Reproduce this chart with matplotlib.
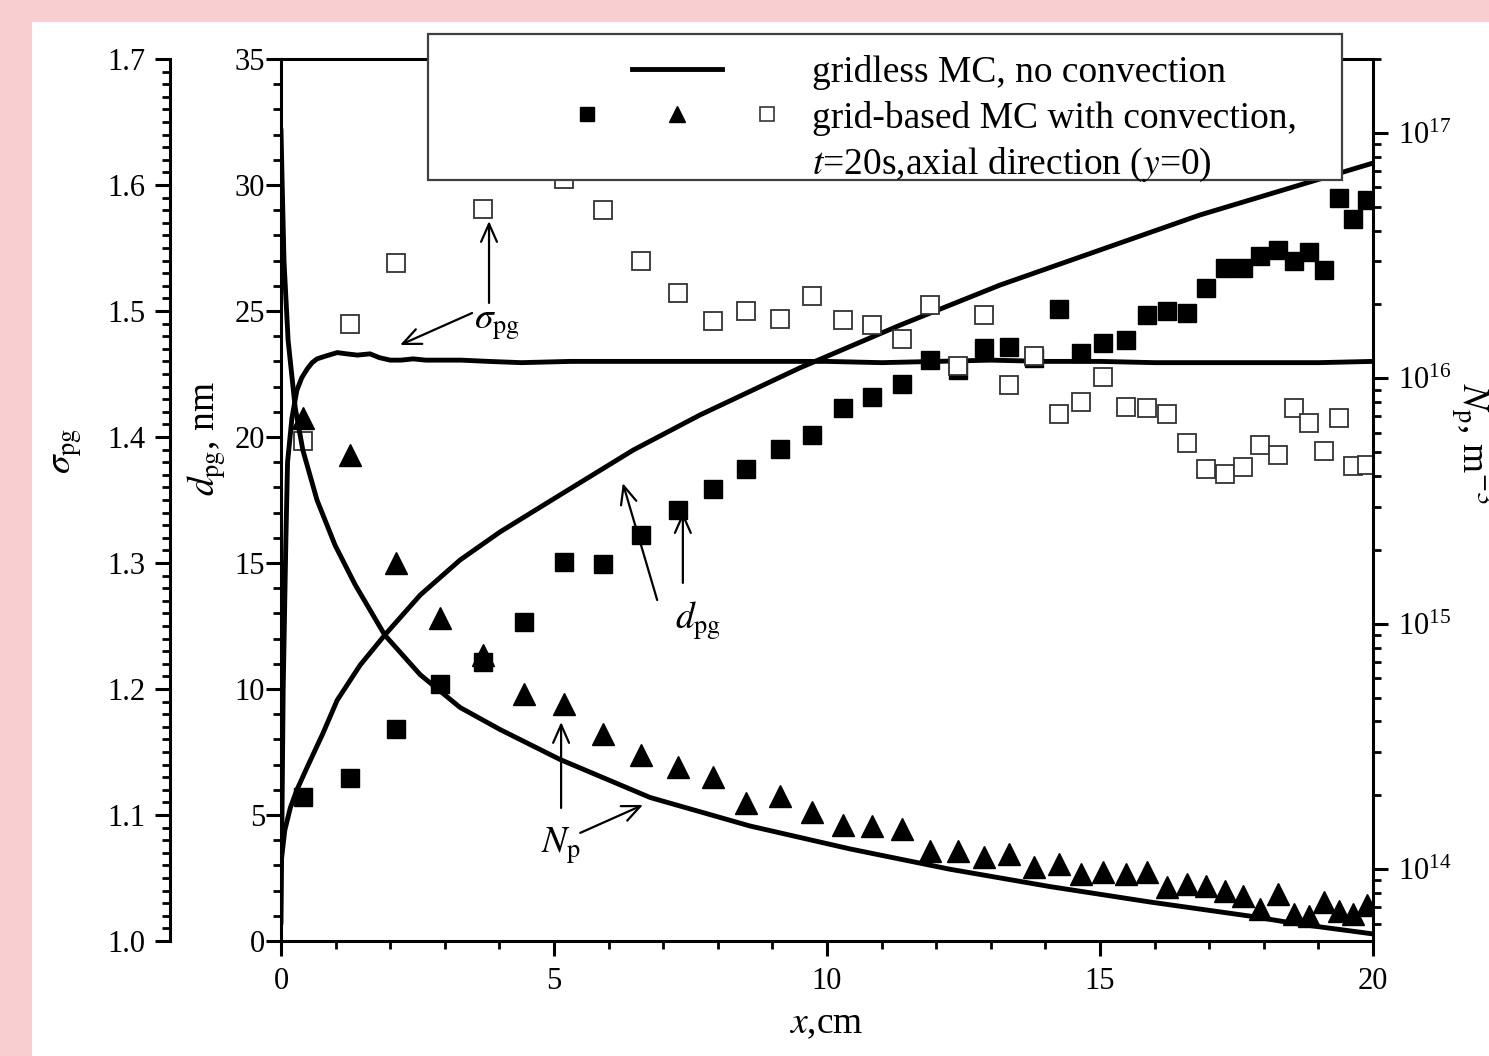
import numpy as np
import matplotlib
matplotlib.use("Agg")
import matplotlib.pyplot as plt
from matplotlib.lines import Line2D
from matplotlib.legend_handler import HandlerTuple
from matplotlib.patches import Rectangle
from matplotlib.ticker import MultipleLocator, LogLocator, NullFormatter, FormatStrFormatter

plt.rcParams["font.family"] = ["Liberation Serif", "DejaVu Serif"]
plt.rcParams["mathtext.fontset"] = "stix"

# grid-based MC with convection, t=20 s, axial direction
x_grid = [0.40, 1.26, 2.11, 2.91, 3.70, 4.45, 5.18, 5.90, 6.59, 7.27,
          7.91, 8.52, 9.14, 9.73, 10.29, 10.82, 11.37, 11.89, 12.40, 12.88,
          13.33, 13.79, 14.25, 14.65, 15.05, 15.48, 15.86, 16.23, 16.59, 16.94,
          17.29, 17.62, 17.93, 18.26, 18.55, 18.83, 19.10, 19.38, 19.63, 19.89]
dpg_grid = [5.71, 6.47, 8.41, 10.20, 11.07, 12.66, 15.04, 14.96, 16.11, 17.10,
            17.94, 18.73, 19.52, 20.08, 21.15, 21.59, 22.10, 23.06, 22.66, 23.53,
            23.57, 23.13, 25.08, 23.33, 23.73, 23.85, 24.84, 25.00, 24.92, 25.91,
            26.71, 26.71, 27.18, 27.42, 26.98, 27.34, 26.63, 29.48, 28.65, 29.40]
# two values sit behind the legend box and cannot be read
sigma_grid = [1.397, 1.490, 1.538, np.nan, 1.581, np.nan, 1.605, 1.580, 1.540, 1.514,
              1.492, 1.500, 1.494, 1.512, 1.493, 1.489, 1.478, 1.505, 1.456, 1.497,
              1.441, 1.464, 1.418, 1.428, 1.448, 1.424, 1.423, 1.418, 1.395, 1.375,
              1.371, 1.376, 1.394, 1.386, 1.423, 1.411, 1.389, 1.415, 1.377, 1.378]
np_grid = [6.87e15, 4.86e15, 1.77e15, 1.06e15, 7.48e14, 5.19e14, 4.69e14, 3.54e14, 2.93e14, 2.60e14,
           2.37e14, 1.87e14, 1.98e14, 1.71e14, 1.52e14, 1.50e14, 1.46e14, 1.19e14, 1.19e14, 1.12e14,
           1.15e14, 1.02e14, 1.05e14, 9.55e13, 9.73e13, 9.55e13, 9.73e13, 8.45e13, 8.69e13, 8.53e13,
           8.15e13, 7.77e13, 6.87e13, 7.91e13, 6.56e13, 6.44e13, 7.35e13, 6.74e13, 6.56e13, 7.14e13]

# gridless MC, no convection
x_dpg_line = [0.0, 0.07, 0.17, 0.29, 0.48, 0.77, 1.03, 1.45, 1.9, 2.55, 3.28,
              4.01, 5.11, 6.45, 7.67, 9.5, 11.34, 13.17, 15.0, 16.83, 18.66, 20.0]
dpg_line = [3.1, 4.4, 5.28, 5.99, 6.9, 8.25, 9.56, 10.95, 12.14, 13.73, 15.12,
            16.23, 17.7, 19.48, 20.87, 22.74, 24.44, 26.03, 27.42, 28.81, 30.0, 30.87]

x_sigma_line = [0, 0.04, 0.09, 0.12, 0.2, 0.29, 0.38, 0.48, 0.57, 0.66,
                0.8, 1.03, 1.2, 1.4, 1.63, 1.8, 2.0, 2.2, 2.42, 2.65,
                2.86, 3.3, 3.8, 4.4, 5.3, 6, 7, 8, 9, 10,
                11, 12, 13, 14, 15, 16, 17, 18, 19, 20]
sigma_line = [1.015, 1.20, 1.32, 1.38, 1.415, 1.437, 1.447, 1.454, 1.459, 1.462,
              1.464, 1.467, 1.466, 1.465, 1.466, 1.463, 1.461, 1.461, 1.462, 1.461,
              1.461, 1.461, 1.460, 1.459, 1.460, 1.460, 1.460, 1.460, 1.460, 1.460,
              1.459, 1.460, 1.461, 1.460, 1.460, 1.459, 1.459, 1.459, 1.459, 1.460]

x_np_line = [0, 0.02, 0.055, 0.13, 0.26, 0.4, 0.66, 0.99, 1.36, 1.9, 2.55, 3.28,
             4.01, 5.11, 6.76, 8.59, 10.42, 12.25, 14.08, 15.92, 17.75, 18.66, 20.0]
np_line = [1.02e17, 6.4e16, 3.0e16, 1.43e16, 7.6e15, 5.1e15, 3.19e15, 2.09e15, 1.44e15, 9.0e14,
           6.2e14, 4.56e14, 3.71e14, 2.80e14, 1.96e14, 1.50e14, 1.21e14, 1.0e14, 8.5e13,
           7.35e13, 6.44e13, 5.97e13, 5.45e13]

# annotation arrows (tail, head) and labels, in (x, d_pg) units
arrows = [((3.81, 25.32), (3.81, 28.57)), ((3.50, 24.92), (2.18, 23.65)),
          ((6.89, 13.53), (6.26, 18.17)), ((7.36, 14.21), (7.36, 17.02)),
          ((5.13, 5.28), (5.13, 8.69)), ((5.48, 4.29), (6.63, 5.40))]
notes = [(3.53, 24.44, r"$\sigma_{\rm pg}$"), (7.22, 12.7, r"$d_{\rm pg}$"),
         (4.76, 3.77, r"$N_{\rm p}$")]

W, H = 1489, 1056
fs_text = 27
fs_tick = 22

fig = plt.figure(figsize=(W / 100, H / 100), dpi=100)
fig.patch.set_facecolor("#f9ced0")
fig.add_artist(Rectangle((32 / W, 0), 1, 1 - 22 / H, transform=fig.transFigure,
                         facecolor="white", edgecolor="none", zorder=0))

ax = fig.add_axes([281 / W, 1 - 941 / H, 1092 / W, 882 / H])
ax_s = ax.twinx()
ax_n = ax.twinx()

lw_line = 3.5
ax.plot(x_dpg_line, dpg_line, color="black", lw=lw_line)
ax.plot(x_grid, dpg_grid, ls="none", marker="s", ms=13, color="black")
ax_s.plot(x_sigma_line, sigma_line, color="black", lw=lw_line)
ax_s.plot(x_grid, sigma_grid, ls="none", marker="s", ms=13, mfc="white",
          mec="#333333", mew=1.3)
ax_n.plot(x_np_line, np_line, color="black", lw=lw_line)
ax_n.plot(x_grid, np_grid, ls="none", marker="^", ms=16, color="black")

ax.set_xlim(0, 20)
ax.set_ylim(0, 35)
ax_s.set_ylim(1.0, 1.7)
ax_n.set_yscale("log")
ax_n.set_ylim(5.1e13, 2.0e17)

ax.xaxis.set_major_locator(MultipleLocator(5))
ax.xaxis.set_minor_locator(MultipleLocator(1))
ax.yaxis.set_major_locator(MultipleLocator(5))
ax.yaxis.set_minor_locator(MultipleLocator(1))
ax.xaxis.set_major_formatter(FormatStrFormatter("%d"))
ax.yaxis.set_major_formatter(FormatStrFormatter("%d"))
ax_s.yaxis.set_major_locator(MultipleLocator(0.1))
ax_s.yaxis.set_minor_locator(MultipleLocator(0.01))
ax_s.yaxis.set_major_formatter(FormatStrFormatter("%.1f"))
ax_n.yaxis.set_major_locator(LogLocator(base=10))
ax_n.yaxis.set_minor_locator(LogLocator(base=10, subs=np.arange(2, 10)))
ax_n.yaxis.set_minor_formatter(NullFormatter())

spine_w = 2.2
for a in (ax, ax_s, ax_n):
    for sp in a.spines.values():
        sp.set_linewidth(spine_w)
    a.tick_params(which="major", direction="out", length=11, width=2.2, labelsize=fs_tick)
    a.tick_params(which="minor", direction="out", length=6, width=2.0)

ax.spines["right"].set_visible(False)
ax.tick_params(axis="y", pad=0.5)
ax.tick_params(axis="x", pad=8)

for k in ("right", "top", "bottom"):
    ax_s.spines[k].set_visible(False)
ax_s.spines["left"].set_position(("axes", (170 - 281) / 1092))
ax_s.yaxis.set_ticks_position("left")
ax_s.tick_params(axis="y", pad=7)

for k in ("left", "top", "bottom"):
    ax_n.spines[k].set_visible(False)
ax_n.tick_params(axis="y", pad=7)

ax.set_xlabel(r"$x$,cm", fontsize=fs_text)
ax.xaxis.set_label_coords(0.499, -0.074)
ax.set_ylabel(r"$d_{\rm pg}$, nm", fontsize=fs_text, rotation=90, ha="center",
              va="center", rotation_mode="default")
ax.yaxis.set_label_coords(-0.068, 0.57)
ax_s.set_ylabel(r"$\sigma_{\rm pg}$", fontsize=fs_text, rotation=90, ha="center",
                va="center", rotation_mode="default")
ax_s.yaxis.set_label_position("left")
ax_s.yaxis.set_label_coords(-0.180, 0.556)
ax_n.set_ylabel(r"$N_{\rm p}$, m$^{-3}$", fontsize=fs_text, rotation=-90, ha="center",
                va="center", rotation_mode="default")
ax_n.yaxis.set_label_coords(1.0907, 0.564)

for tail, head in arrows:
    ax_n.annotate("", xy=ax_n.transData.inverted().transform(ax.transData.transform(head)),
                  xytext=ax_n.transData.inverted().transform(ax.transData.transform(tail)),
                  arrowprops=dict(arrowstyle="->,head_length=0.5,head_width=0.22",
                                  lw=1.6, color="black", shrinkA=0, shrinkB=0,
                                  mutation_scale=26))
for xn, yn, s in notes:
    ax.text(xn, yn, s, fontsize=fs_text, ha="left", va="center")

# legend: white box drawn separately so the entries can sit where the original has them
ax_n.add_artist(Rectangle((428 / W, 1 - 180 / H), (1342 - 428) / W, (180 - 34) / H,
                          transform=fig.transFigure, facecolor="white",
                          edgecolor="#404040", lw=1.6, clip_on=False, zorder=9))
blank = Line2D([], [], ls="none")
h_line = Line2D([], [], color="black", lw=lw_line)
h_sq = Line2D([], [], ls="none", marker="s", ms=10, color="black")
h_tri = Line2D([], [], ls="none", marker="^", ms=12, color="black")
h_osq = Line2D([], [], ls="none", marker="s", ms=9.5, mfc="white", mec="#333333", mew=1.2)
leg = ax_n.legend(
    [(blank, h_line, blank), (h_sq, h_tri, h_osq), blank],
    ["gridless MC, no convection", "grid-based MC with convection,",
     r"$t$=20s,axial direction ($y$=0)"],
    handler_map={tuple: HandlerTuple(ndivide=None, pad=0)},
    loc="upper left", bbox_to_anchor=(542 / W, 1 - 55 / H),
    bbox_transform=fig.transFigure, borderaxespad=0, borderpad=0, fontsize=fs_text,
    handlelength=270 / (fs_text * 100 / 72), handletextpad=0, labelspacing=0.28,
    numpoints=1, frameon=False)
leg.set_zorder(10)

fig.savefig("out.png", dpi=100)
